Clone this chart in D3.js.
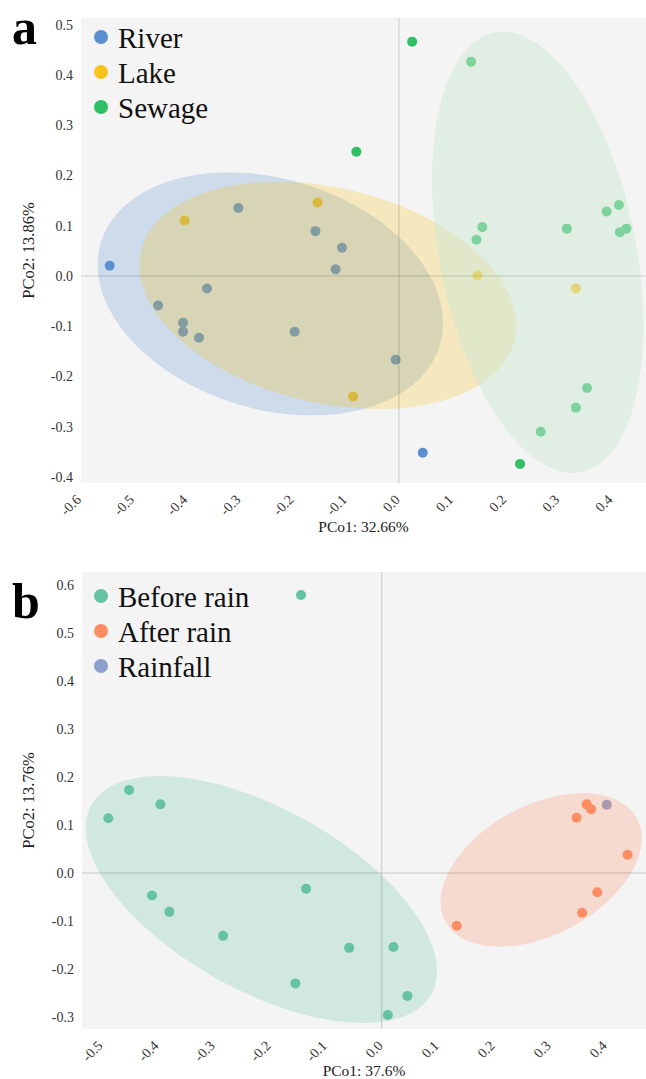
<!DOCTYPE html>
<html>
<head>
<meta charset="utf-8">
<script src="https://cdn.jsdelivr.net/npm/d3@7"></script>
<style>
body { margin: 0; background: #fff; }
svg { display: block; font-family: "Liberation Serif", "Times New Roman", serif; }
</style>
</head>
<body>
<svg id="chart" width="646" height="1079"></svg>
<script>
// ---- panel a: water types ----
const groupsA = ['River', 'Lake', 'Sewage'];
const riverA = [[-0.544, 0.020], [0.045, -0.352], [-0.302, 0.135], [-0.157, 0.089], [-0.107, 0.056],
    [-0.119, 0.013], [-0.453, -0.059], [-0.361, -0.025], [-0.406, -0.093], [-0.406, -0.111],
    [-0.376, -0.123], [-0.196, -0.111], [-0.006, -0.167]];
const lakeA = [[-0.403, 0.110], [-0.153, 0.146], [0.148, 0.001], [0.333, -0.025], [-0.086, -0.240]];
const sewageA = [[0.025, 0.466], [-0.080, 0.247], [0.228, -0.374], [0.136, 0.426], [0.157, 0.097],
    [0.146, 0.072], [0.316, 0.094], [0.391, 0.128], [0.414, 0.141], [0.416, 0.087], [0.428, 0.094],
    [0.354, -0.223], [0.333, -0.262], [0.267, -0.310]];
// ellipse = [center, semi axis 1, semi axis 2] in data units
const riverEllipse = [[-0.2418, -0.0358], [0.3187, -0.1025], [-0.0629, -0.2189]];
const lakeEllipse = [[-0.1336, -0.0388], [0.3516, -0.0880], [-0.0465, -0.2082]];
const sewageEllipse = [[0.2613, 0.0468], [0.0815, -0.4372], [-0.1814, -0.0378]];
const xTicksA = [-0.6, -0.5, -0.4, -0.3, -0.2, -0.1, 0, 0.1, 0.2, 0.3, 0.4];
const yTicksA = [-0.4, -0.3, -0.2, -0.1, 0, 0.1, 0.2, 0.3, 0.4, 0.5];

// ---- panel b: rain ----
const groupsB = ['Before rain', 'After rain', 'Rainfall'];
const beforeB = [[-0.144, 0.579], [-0.451, 0.173], [-0.395, 0.143], [-0.488, 0.114], [-0.410, -0.047],
    [-0.379, -0.081], [-0.283, -0.131], [-0.135, -0.033], [-0.154, -0.230], [-0.058, -0.156],
    [0.021, -0.154], [0.046, -0.256], [0.011, -0.296]];
const afterB = [[0.134, -0.110], [0.348, 0.115], [0.366, 0.143], [0.374, 0.133], [0.439, 0.038],
    [0.385, -0.040], [0.358, -0.083]];
const rainfallB = [[0.402, 0.142]];
const beforeEllipse = [[-0.2146, -0.0552], [0.3034, -0.1969], [-0.0789, -0.1654]];
const afterEllipse = [[0.2848, 0.0063], [0.1709, 0.1073], [0.0547, -0.1185]];
const xTicksB = [-0.5, -0.4, -0.3, -0.2, -0.1, 0, 0.1, 0.2, 0.3, 0.4];
const yTicksB = [-0.3, -0.2, -0.1, 0, 0.1, 0.2, 0.3, 0.4, 0.5, 0.6];

const svg = d3.select('#chart');
const fmt = d => d.toFixed(1);

let ellipsePoints = (e) => {
    let pts = [];
    for (let i = 0; i < 120; i++) {
        let t = i / 120 * Math.PI * 2;
        pts.push([
            e[0][0] + Math.cos(t) * e[1][0] + Math.sin(t) * e[2][0],
            e[0][1] + Math.cos(t) * e[1][1] + Math.sin(t) * e[2][1]
        ]);
    }
    return pts;
}

let drawPanel = (p) => {
    const x = d3.scaleLinear().domain(p.xDomain).range([p.left, p.right]);
    const y = d3.scaleLinear().domain(p.yDomain).range([p.bottom, p.top]);
    const g = svg.append('g');

    g.append('rect')
    .attr('x', p.left).attr('y', p.top)
    .attr('width', p.right - p.left).attr('height', p.bottom - p.top)
    .attr('fill', '#f4f4f4');

    // y tick labels
    const yAxis = g.append('g')
    .attr('transform', `translate(${p.left},0)`)
    .call(d3.axisLeft(y).tickValues(p.yTicks).tickFormat(fmt).tickSize(0).tickPadding(8));
    yAxis.select('.domain').remove();
    yAxis.selectAll('text')
    .attr('font-family', '"Liberation Serif", serif')
    .attr('font-size', 14)
    .attr('fill', '#333');

    // x tick labels, rotated
    const xAxis = g.append('g')
    .attr('transform', `translate(0,${p.bottom})`)
    .call(d3.axisBottom(x).tickValues(p.xTicks).tickFormat(fmt).tickSize(0));
    xAxis.select('.domain').remove();
    xAxis.selectAll('text')
    .attr('x', 0).attr('y', 0).attr('dy', '0.35em')
    .attr('text-anchor', 'end')
    .attr('transform', 'translate(-2,14) rotate(-45)')
    .attr('font-family', '"Liberation Serif", serif')
    .attr('font-size', 14)
    .attr('fill', '#333');

    // points
    p.series.forEach((s, i) => {
        g.append('g')
        .selectAll('circle')
        .data(s).enter()
        .append('circle')
        .attr('cx', d => x(d[0]))
        .attr('cy', d => y(d[1]))
        .attr('r', 5)
        .attr('fill', p.colors[i]);
    });

    // confidence ellipses drawn over the points
    const line = d3.line()
    .x(d => x(d[0]))
    .y(d => y(d[1]))
    .curve(d3.curveLinearClosed);

    p.ellipses.forEach((e, i) => {
        g.append('path')
        .attr('d', line(ellipsePoints(e)))
        .attr('fill', p.ellipseColors[i])
        .attr('fill-opacity', p.ellipseOpacity[i]);
    });

    // zero lines
    g.append('line')
    .attr('x1', x(0)).attr('x2', x(0))
    .attr('y1', p.top).attr('y2', p.bottom)
    .attr('stroke', '#000').attr('stroke-opacity', 0.13).attr('stroke-width', 1.4);
    g.append('line')
    .attr('x1', p.left).attr('x2', p.right)
    .attr('y1', y(0)).attr('y2', y(0))
    .attr('stroke', '#000').attr('stroke-opacity', 0.13).attr('stroke-width', 1.4);

    // axis titles
    g.append('text')
    .attr('x', (p.left + p.right) / 2)
    .attr('y', p.xTitleY)
    .attr('text-anchor', 'middle')
    .attr('font-size', 15.5)
    .attr('fill', '#222')
    .text(p.xTitle);

    g.append('text')
    .attr('transform', `translate(34,${(p.top + p.bottom) / 2}) rotate(-90)`)
    .attr('text-anchor', 'middle')
    .attr('font-size', 16.5)
    .attr('fill', '#222')
    .text(p.yTitle);

    // legend
    p.groups.forEach((name, i) => {
        let by = p.legendY + i * 35;
        g.append('circle')
        .attr('cx', 101).attr('cy', by - 11)
        .attr('r', 7)
        .attr('fill', p.colors[i]);
        g.append('text')
        .attr('x', 118).attr('y', by)
        .attr('font-size', 29)
        .attr('fill', '#111')
        .text(name);
    });

    // panel letter
    g.append('text')
    .attr('x', 12).attr('y', p.letterY)
    .attr('font-size', 50)
    .attr('font-weight', 'bold')
    .attr('fill', '#000')
    .text(p.letter);
}

drawPanel({
    letter: 'a', letterY: 44,
    left: 81, right: 646, top: 18, bottom: 483,
    xDomain: [-0.598, 0.465], yDomain: [-0.412, 0.513],
    xTicks: xTicksA, yTicks: yTicksA,
    series: [riverA, lakeA, sewageA],
    groups: groupsA,
    colors: ['#5b8fce', '#f8c21c', '#2fbf65'],
    ellipses: [riverEllipse, lakeEllipse, sewageEllipse],
    ellipseColors: ['#5b8fce', '#f8c21c', '#cde8d4'],
    ellipseOpacity: [0.25, 0.25, 0.5],
    xTitle: 'PCo1: 32.66%', xTitleY: 532,
    yTitle: 'PCo2: 13.86%',
    legendY: 48
});

drawPanel({
    letter: 'b', letterY: 618,
    left: 82, right: 646, top: 572, bottom: 1029,
    xDomain: [-0.535, 0.472], yDomain: [-0.325, 0.627],
    xTicks: xTicksB, yTicks: yTicksB,
    series: [beforeB, afterB, rainfallB],
    groups: groupsB,
    colors: ['#66c2a5', '#fc8d62', '#8da0cb'],
    ellipses: [beforeEllipse, afterEllipse],
    ellipseColors: ['#66c2a5', '#fc8d62'],
    ellipseOpacity: [0.25, 0.25],
    xTitle: 'PCo1: 37.6%', xTitleY: 1076,
    yTitle: 'PCo2: 13.76%',
    legendY: 607
});
</script>
</body>
</html>
